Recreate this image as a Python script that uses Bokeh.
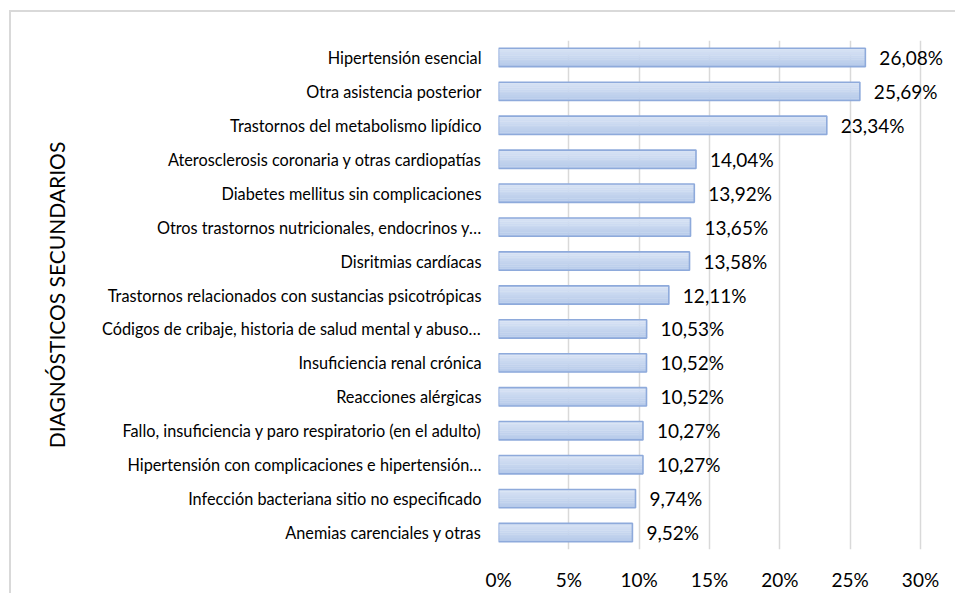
from bokeh.plotting import figure
from bokeh.models import ColumnDataSource, FixedTicker, PrintfTickFormatter, Range1d, FactorRange
from bokeh.transform import dodge
from bokeh.core.properties import value
from bokeh.embed import file_html
from bokeh.resources import INLINE

categories = [
    "Hipertensión esencial",
    "Otra asistencia posterior",
    "Trastornos del metabolismo lipídico",
    "Aterosclerosis coronaria y otras cardiopatías",
    "Diabetes mellitus sin complicaciones",
    "Otros trastornos nutricionales, endocrinos y…",
    "Disritmias cardíacas",
    "Trastornos relacionados con sustancias psicotrópicas",
    "Códigos de cribaje, historia de salud mental y abuso…",
    "Insuficiencia renal crónica",
    "Reacciones alérgicas",
    "Fallo, insuficiencia y paro respiratorio (en el adulto)",
    "Hipertensión con complicaciones e hipertensión…",
    "Infección bacteriana sitio no especificado",
    "Anemias carenciales y otras",
]
values = [26.08, 25.69, 23.34, 14.04, 13.92, 13.65, 13.58, 12.11, 10.53, 10.52, 10.52, 10.27, 10.27, 9.74, 9.52]
x_ticks = [0, 5, 10, 15, 20, 25, 30]
axis_title = "DIAGNÓSTICOS SECUNDARIOS"

labels = [f"{v:.2f}".replace(".", ",") + "%" for v in values]
src = ColumnDataSource(dict(cat=categories, val=values, lab=labels))

FONT = "Lato"
OX, OY = 11, 12          # page offset of the canvas (inside the chart frame)
W, H = 957 - OX, 595 - OY
ML, MT = 498 - OX, 40 - OY
MB = H - (549 - OY)

p = figure(width=W, height=H,
           y_range=FactorRange(*reversed(categories)),
           x_range=Range1d(0, 30 * (W - ML) / 422.0),
           output_backend="svg", toolbar_location=None,
           min_border_left=ML, min_border_right=0,
           min_border_top=MT, min_border_bottom=MB)
p.styles = {"margin-left": "9px", "margin-top": "10px",
            "border-top": "2px solid #d9d9d9", "border-left": "2px solid #d9d9d9"}
p.outline_line_color = None
p.background_fill_color = "white"
p.border_fill_color = "white"

# gradient bars built from strips
N = 10
bar_h = 0.54
top = (216, 227, 244)
bot = (182, 202, 234)
for i in range(N):
    t = i / (N - 1)
    c = tuple(int(round(top[k] + (bot[k] - top[k]) * t)) for k in range(3))
    off = bar_h / 2 - (i + 0.5) * bar_h / N
    p.hbar(y=dodge("cat", off, range=p.y_range), left=0, right="val",
           height=bar_h / N * 1.15, fill_color="#%02x%02x%02x" % c,
           line_color=None, source=src)
p.hbar(y="cat", left=0, right="val", height=bar_h, fill_color=None,
       line_color="#8eaadb", line_width=1.6, source=src)

p.text(x="val", y="cat", text="lab", source=src, x_offset=14,
       text_align="left", text_baseline="middle",
       text_font=value(FONT), text_font_size="19px", text_color="#000000")

# x axis
p.xaxis.ticker = FixedTicker(ticks=x_ticks)
p.xaxis.formatter = PrintfTickFormatter(format="%d%%")
p.xaxis.axis_line_color = None
p.xaxis.major_tick_line_color = None
p.xaxis.minor_tick_line_color = None
p.xaxis.major_label_standoff = 12
p.xaxis.major_label_text_font = FONT
p.xaxis.major_label_text_font_size = "19px"
p.xaxis.major_label_text_color = "#000000"

p.xgrid.ticker = FixedTicker(ticks=x_ticks)
p.xgrid.grid_line_color = "#d9d9d9"
p.xgrid.grid_line_width = 1.5
p.ygrid.grid_line_color = None

# y axis
p.yaxis.axis_line_color = None
p.yaxis.major_tick_line_color = None
p.yaxis.minor_tick_line_color = None
p.yaxis.major_label_standoff = 11
p.yaxis.major_label_text_font = FONT
p.yaxis.major_label_text_font_size = "16.3px"
p.yaxis.major_label_text_color = "#000000"
p.yaxis.axis_label = axis_title
p.yaxis.axis_label_text_font = FONT
p.yaxis.axis_label_text_font_size = "21px"
p.yaxis.axis_label_text_font_style = "normal"
p.yaxis.axis_label_text_color = "#000000"
p.yaxis.axis_label_standoff = 30

open("out.html", "w").write(file_html(p, INLINE))
